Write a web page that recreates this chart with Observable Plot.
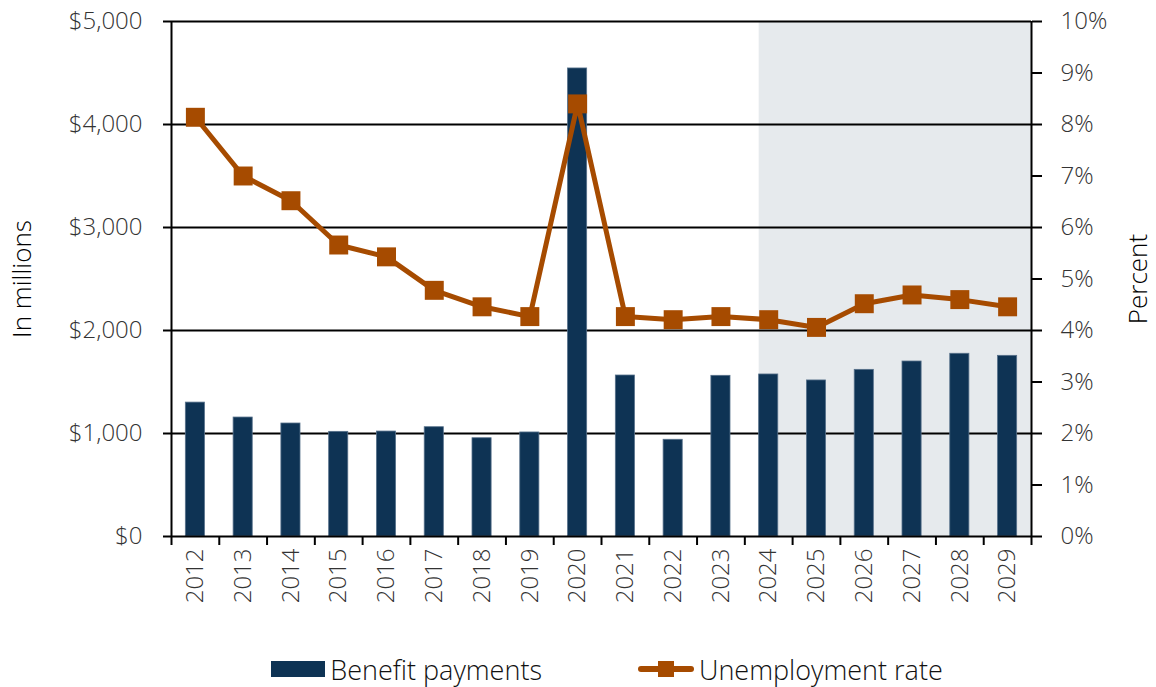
<!DOCTYPE html>
<html>
<head>
<meta charset="utf-8">
<script src="https://cdn.jsdelivr.net/npm/d3@7"></script>
<script src="https://cdn.jsdelivr.net/npm/@observablehq/plot@0.6"></script>
<style>
  body { margin: 0; background: #fff; font-family: "Open Sans", sans-serif; }
  #chart svg { display: block; }
  .legend { box-sizing: border-box; display: flex; justify-content: center; align-items: center; gap: 96px; height: 62px; padding-top: 26px; padding-left: 58px; font-size: 27px; font-weight: 300; color: #111; }
  .legend .item { display: flex; align-items: center; gap: 5px; }
</style>
</head>
<body>
<div id="chart"></div>
<div class="legend">
  <div class="item"><svg width="54" height="18"><rect x="0" y="1" width="54" height="16" fill="#0e3354"></rect></svg><span>Benefit payments</span></div>
  <div class="item"><svg width="56" height="20"><line x1="3" y1="10" x2="53" y2="10" stroke="#a64b00" stroke-width="6" stroke-linecap="round"></line><rect x="20" y="2" width="16" height="16" fill="#a64b00"></rect></svg><span>Unemployment rate</span></div>
</div>
<script>
const years = [2012, 2013, 2014, 2015, 2016, 2017, 2018, 2019, 2020, 2021, 2022, 2023, 2024, 2025, 2026, 2027, 2028, 2029];
const benefitPayments = [1300, 1155, 1097, 1016, 1019, 1061, 954, 1010, 4544, 1563, 939, 1560, 1573, 1515, 1618, 1699, 1774, 1754];
const unemploymentRate = [8.14, 7.00, 6.52, 5.66, 5.43, 4.78, 4.46, 4.27, 8.40, 4.27, 4.21, 4.27, 4.21, 4.06, 4.52, 4.69, 4.60, 4.46];
const leftTicks = [0, 1000, 2000, 3000, 4000, 5000];
const rightTicks = [0, 1, 2, 3, 4, 5, 6, 7, 8, 9, 10];
const forecastStart = 2024;

const leftMax = 5000, rightMax = 10;
const k = leftMax / rightMax;
const barHalf = 0.2;
const xDomain = [years[0] - 0.5, years[years.length - 1] + 0.5];
const boundaries = [...years.map(y => y - 0.5), xDomain[1]];

const data = years.map((year, i) => ({ year, benefit: benefitPayments[i], rate: unemploymentRate[i] }));
const fmtDollar = d => "$" + d3.format(",")(d);

const chart = Plot.plot({
  width: 1156,
  height: 625,
  marginLeft: 171,
  marginRight: 125,
  marginTop: 21,
  marginBottom: 89,
  style: { fontFamily: "Open Sans, sans-serif", fontWeight: 300, background: "#fff", color: "#000" },
  x: { type: "linear", domain: xDomain },
  y: { domain: [0, leftMax] },
  marks: [
    Plot.rect([forecastStart], { x1: d => d - barHalf, x2: xDomain[1], y1: 0, y2: leftMax, fill: "#e6eaed" }),
    Plot.ruleY(leftTicks.slice(1), { stroke: "#000", strokeWidth: 2 }),
    Plot.rectY(data, { x1: d => d.year - barHalf, x2: d => d.year + barHalf, y: "benefit", fill: "#0e3354", stroke: "#56708a", strokeWidth: 0.8 }),
    Plot.line(data, { x: "year", y: d => d.rate * k, stroke: "#a64b00", strokeWidth: 5 }),
    Plot.dot(data, { x: "year", y: d => d.rate * k, symbol: "square", r: 10.7, fill: "#a64b00", stroke: "none" }),
    Plot.ruleX(xDomain, { stroke: "#000", strokeWidth: 2 }),
    Plot.ruleY([0], { stroke: "#000", strokeWidth: 2 }),
    Plot.axisY(leftTicks, { anchor: "left", tickSize: 8, tickPadding: 21, tickFormat: fmtDollar, fontSize: 24, fill: "#333", strokeWidth: 2, label: null }),
    Plot.axisY(rightTicks.map(d => d * k), { anchor: "right", tickSize: 10, tickPadding: 19, tickFormat: d => (d / k) + "%", fontSize: 24, fill: "#333", strokeWidth: 2, label: null }),
    Plot.axisX(boundaries, { tickSize: 9, tickFormat: () => "", strokeWidth: 2, label: null }),
    Plot.axisX(years, { tickSize: 0, tickPadding: 12, tickRotate: -90, tickFormat: d => String(d), fontSize: 24, fill: "#333", label: null }),
    Plot.text(["In millions"], { text: d => d, frameAnchor: "left", textAnchor: "middle", dx: -149, rotate: -90, fontSize: 26, fill: "#000" }),
    Plot.text(["Percent"], { text: d => d, frameAnchor: "right", textAnchor: "middle", dx: 107, rotate: -90, fontSize: 26, fill: "#000" })
  ]
});
document.getElementById("chart").appendChild(chart);
</script>
</body>
</html>
